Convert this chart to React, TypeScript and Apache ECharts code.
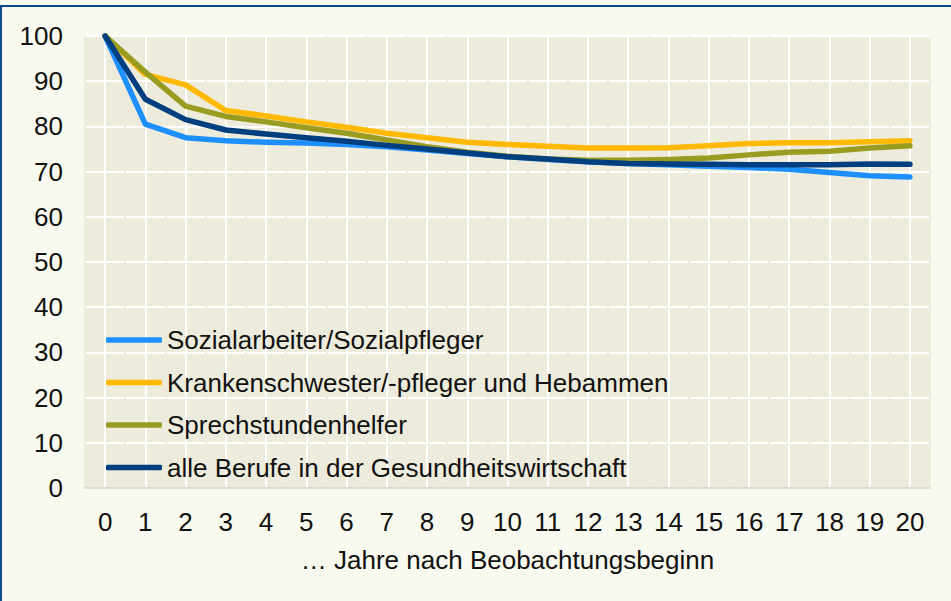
import React, { useEffect, useRef } from "react";
import * as echarts from "echarts";

const years = ["0","1","2","3","4","5","6","7","8","9","10","11","12","13","14","15","16","17","18","19","20"];
const yTicks = [0, 10, 20, 30, 40, 50, 60, 70, 80, 90, 100];

const sozialarbeiter = [100, 80.5, 77.5, 76.8, 76.5, 76.3, 76.0, 75.5, 74.8, 74.0, 73.3, 72.7, 72.2, 71.8, 71.5, 71.2, 70.9, 70.5, 69.8, 69.1, 68.8];
const krankenschwester = [100, 91.5, 89.2, 83.5, 82.3, 81.0, 79.8, 78.5, 77.5, 76.5, 76.0, 75.6, 75.2, 75.2, 75.3, 75.7, 76.2, 76.4, 76.4, 76.6, 76.8];
const sprechstunden = [100, 92.0, 84.5, 82.2, 81.0, 79.7, 78.5, 77.0, 75.5, 74.3, 73.4, 72.8, 72.5, 72.5, 72.7, 73.0, 73.7, 74.3, 74.5, 75.2, 75.7];
const alleBerufe = [100, 86.0, 81.5, 79.2, 78.3, 77.5, 76.7, 75.8, 75.0, 74.1, 73.3, 72.8, 72.2, 71.8, 71.7, 71.6, 71.5, 71.5, 71.5, 71.7, 71.6];

const seriesNames = [
  "Sozialarbeiter/Sozialpfleger",
  "Krankenschwester/-pfleger und Hebammen",
  "Sprechstundenhelfer",
  "alle Berufe in der Gesundheitswirtschaft",
];
const seriesData = [sozialarbeiter, krankenschwester, sprechstunden, alleBerufe];
const colors = ["#1e8fff", "#ffb900", "#9a9c22", "#003f7f"];

const FONT = "'Liberation Sans', Arial, sans-serif";
const FS = 26;

export default function App() {
  const ref = useRef<HTMLDivElement>(null);
  useEffect(() => {
    document.body.style.margin = "0";
    const chart = echarts.init(ref.current!, null, { renderer: "svg" });
    chart.setOption({
      animation: false,
      backgroundColor: "#f9faef",
      textStyle: { fontFamily: FONT },
      graphic: [
        {
          type: "rect",
          shape: { x: 1, y: 6, width: 1000, height: 700 },
          style: { fill: "none", stroke: "#0b4a8c", lineWidth: 2 },
          silent: true,
        },
      ],
      grid: {
        left: 85,
        right: 21,
        top: 36,
        bottom: 113,
        show: true,
        backgroundColor: "#edecdc",
        borderWidth: 0,
      },
      legend: {
        orient: "vertical",
        left: 101,
        top: 322,
        icon: "roundRect",
        itemWidth: 56,
        itemHeight: 5.5,
        itemGap: 16.5,
        textStyle: { fontSize: FS, color: "#111", fontFamily: FONT, lineHeight: 26 },
        data: seriesNames,
      },
      xAxis: [
        {
          type: "category",
          data: years,
          boundaryGap: true,
          name: "… Jahre nach Beobachtungsbeginn",
          nameLocation: "middle",
          nameGap: 59,
          nameTextStyle: { fontSize: FS, color: "#111", fontFamily: FONT },
          axisLine: { show: true, lineStyle: { color: "#d2d2ca", width: 1.5 } },
          axisTick: { show: false },
          axisLabel: { fontSize: FS, color: "#111", margin: 21, fontFamily: FONT, interval: 0 },
          splitLine: { show: true, alignWithLabel: true, lineStyle: { color: "#ffffff", width: 2 } },
          z: 1,
        },
        {
          type: "category",
          data: years,
          boundaryGap: true,
          position: "bottom",
          axisLine: { show: false },
          axisTick: { show: false },
          axisLabel: { show: false },
          splitLine: { show: true, lineStyle: { color: "#edecdc", width: 2 } },
          z: 1,
        },
      ],
      yAxis: {
        type: "value",
        min: 0,
        max: 100,
        interval: 10,
        axisLine: { show: false },
        axisTick: { show: false },
        axisLabel: {
          fontSize: FS,
          color: "#111",
          margin: 22,
          fontFamily: FONT,
          formatter: (v: number) => (yTicks.includes(v) ? String(v) : ""),
        },
        splitLine: { show: true, lineStyle: { color: "#ffffff", width: 2 } },
        z: 0,
      },
      series: seriesNames.map((name, i) => ({
        name,
        type: "line",
        xAxisIndex: 0,
        data: seriesData[i],
        showSymbol: false,
        symbol: "none",
        lineStyle: { color: colors[i], width: 5.5, cap: "round", join: "round" },
        itemStyle: { color: colors[i] },
        z: 2 + (i === 3 ? 1 : 0),
      })),
    });
    return () => chart.dispose();
  }, []);
  return <div ref={ref} style={{ width: 951, height: 601 }} />;
}
